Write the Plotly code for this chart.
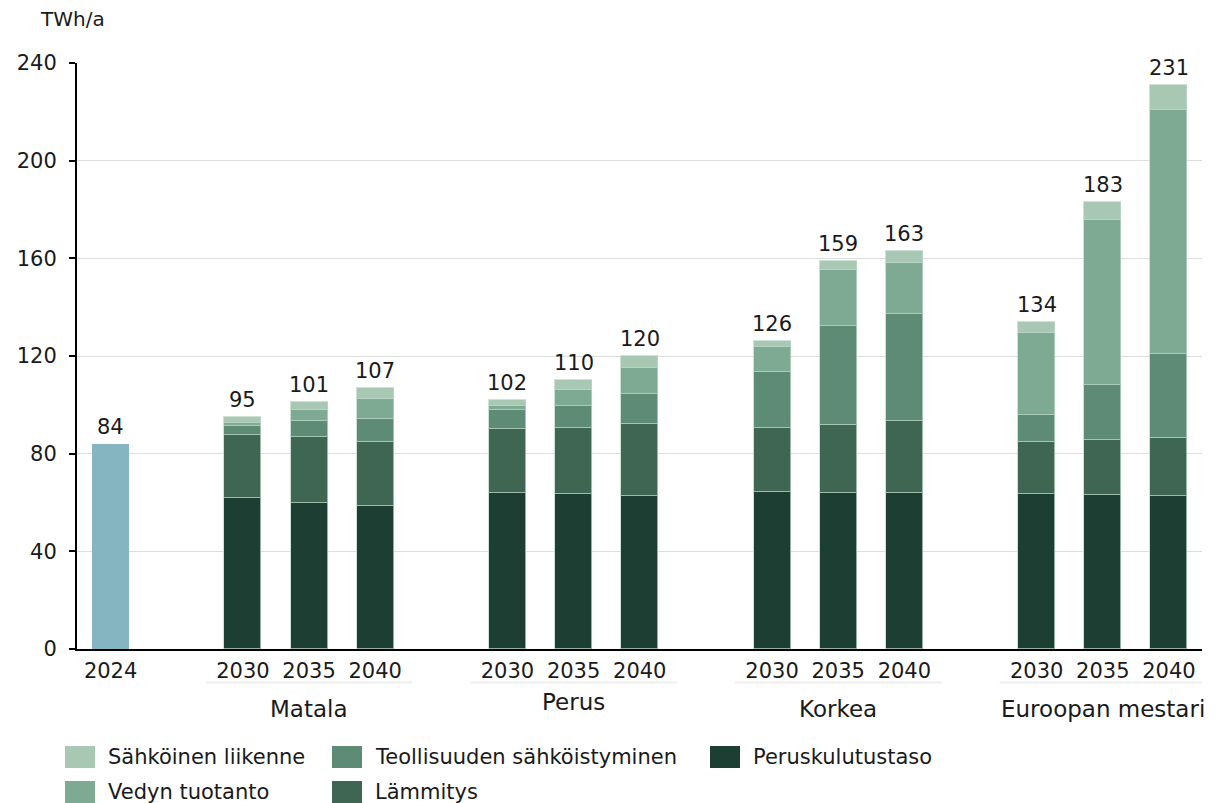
import plotly.graph_objects as go

# --- data -----------------------------------------------------------------
scenarios = ["Matala", "Perus", "Korkea", "Euroopan mestari"]
years = ["2030", "2035", "2040"]
base_year = "2024"
base_value = 84

# TWh/a per scenario-year, in order Matala 2030..2040, Perus ..., Korkea ..., Euroopan mestari ...
peruskulutustaso = [62.0, 60.0, 58.6, 64.0, 63.3, 62.7, 64.5, 63.9, 63.9, 63.6, 63.1, 62.5]
lammitys = [25.7, 27.0, 26.3, 26.0, 27.2, 29.4, 26.2, 28.0, 29.6, 21.0, 22.3, 23.8]
teollisuus = [3.6, 6.5, 9.2, 7.8, 9.1, 12.3, 22.6, 40.3, 43.6, 11.4, 22.9, 34.6]
vedyn_tuotanto = [1.3, 4.4, 8.2, 1.9, 6.5, 10.6, 10.3, 22.9, 20.8, 33.5, 67.2, 99.9]
liikenne = [2.4, 3.1, 4.7, 2.3, 3.9, 5.0, 2.4, 3.9, 5.1, 4.5, 7.5, 10.2]

y_ticks = [0, 40, 80, 120, 160, 200, 240]

# --- layout constants ---------------------------------------------------------
W, H = 1222, 803
ML, MR, MT, MB = 77, 20, 63, 154
PW, PH = W - ML - MR, H - MT - MB
FONT = "DejaVu Sans"
TXT = "#1a1a1a"
FS = 21

series = [
    ("Peruskulutustaso", peruskulutustaso, "#1d3f33"),
    ("Lämmitys", lammitys, "#3e6653"),
    ("Teollisuuden sähköistyminen", teollisuus, "#5e8b76"),
    ("Vedyn tuotanto", vedyn_tuotanto, "#7ea992"),
    ("Sähköinen liikenne", liikenne, "#a8c8b4"),
]

# slot positions: 2024 alone, then each scenario as a group of three with a two-slot gap
group_pos = []
for gi in range(len(scenarios)):
    start = 2 + 4 * gi
    group_pos.append([start + j for j in range(len(years))])
xpos = [p for g in group_pos for p in g]

BAR_W = 0.56

fig = go.Figure()

fig.add_trace(go.Bar(
    x=[0], y=[base_value], width=BAR_W, marker_color="#85b5c0",
    marker_line_width=0, showlegend=False, hoverinfo="y",
))

for name, vals, color in series:
    fig.add_trace(go.Bar(
        x=xpos, y=vals, name=name, width=BAR_W, marker_color=color,
        marker_line=dict(color="rgba(190,215,200,0.75)", width=1),
        showlegend=False,
    ))

totals = [sum(v[i] for _, v, _ in series) for i in range(len(xpos))]

ann = []
# value labels above the bars
ann.append(dict(x=0, y=base_value, text=str(base_value), xref="x", yref="y",
                yanchor="bottom", showarrow=False, yshift=3,
                font=dict(size=FS, color=TXT, family=FONT)))
for x, t in zip(xpos, totals):
    ann.append(dict(x=x, y=t, text=str(round(t)), xref="x", yref="y",
                    yanchor="bottom", showarrow=False, yshift=3,
                    font=dict(size=FS, color=TXT, family=FONT)))


def px_x(p):
    return (p - ML) / PW


def px_y(p):
    return (H - MB - p) / PH


shapes = []
# scenario names with a light rule below the year labels
label_y = {"Matala": 709, "Perus": 702, "Korkea": 709, "Euroopan mestari": 709}
for name, g in zip(scenarios, group_pos):
    shapes.append(dict(type="line", xref="x", yref="paper",
                       x0=g[0] - 0.56, x1=g[-1] + 0.56,
                       y0=px_y(682.5), y1=px_y(682.5),
                       line=dict(color="#eeeeee", width=2)))
    ann.append(dict(x=g[1], y=px_y(label_y[name]), xref="x", yref="paper",
                    text=name, showarrow=False, yanchor="middle",
                    font=dict(size=23, color=TXT, family=FONT)))

# axis unit
ann.append(dict(x=px_x(38), y=px_y(19), xref="paper", yref="paper", text="TWh/a",
                xanchor="left", yanchor="middle", showarrow=False,
                font=dict(size=20, color=TXT, family=FONT)))

# legend, three columns by two rows
legend_items = [
    ("Sähköinen liikenne", "#a8c8b4", 65, 757),
    ("Teollisuuden sähköistyminen", "#5e8b76", 332, 757),
    ("Peruskulutustaso", "#1d3f33", 710, 757),
    ("Vedyn tuotanto", "#7ea992", 65, 792),
    ("Lämmitys", "#3e6653", 332, 792),
]
for text, color, lx, ly in legend_items:
    shapes.append(dict(type="rect", xref="paper", yref="paper",
                       x0=px_x(lx), x1=px_x(lx + 30),
                       y0=px_y(ly - 11), y1=px_y(ly + 11),
                       fillcolor=color, line=dict(width=0)))
    ann.append(dict(x=px_x(lx + 41), y=px_y(ly), xref="paper", yref="paper",
                    text=text, xanchor="left", yanchor="middle", showarrow=False,
                    font=dict(size=FS, color=TXT, family=FONT)))

fig.update_layout(
    width=W, height=H,
    margin=dict(l=ML, r=MR, t=MT, b=MB, pad=0),
    paper_bgcolor="white", plot_bgcolor="white",
    barmode="stack", bargap=0,
    font=dict(family=FONT, color=TXT, size=FS),
    annotations=ann, shapes=shapes,
    showlegend=False,
)

fig.update_xaxes(
    range=[-0.508, 16.5],
    tickvals=[0] + xpos,
    ticktext=[base_year] + years * len(scenarios),
    tickfont=dict(size=FS, color=TXT, family=FONT),
    showgrid=False, zeroline=False,
    showline=True, linecolor="black", linewidth=2,
    ticks="", ticklabelstandoff=2,
)
fig.update_yaxes(
    range=[0, 240], tickvals=y_ticks,
    tickfont=dict(size=FS, color=TXT, family=FONT),
    showgrid=True, gridcolor="#dddddd", gridwidth=1,
    zeroline=False, showline=True, linecolor="black", linewidth=2,
    ticks="outside", ticklen=6, tickcolor="black", tickwidth=2,
    ticklabelstandoff=8,
)

fig.write_html("out.html")
